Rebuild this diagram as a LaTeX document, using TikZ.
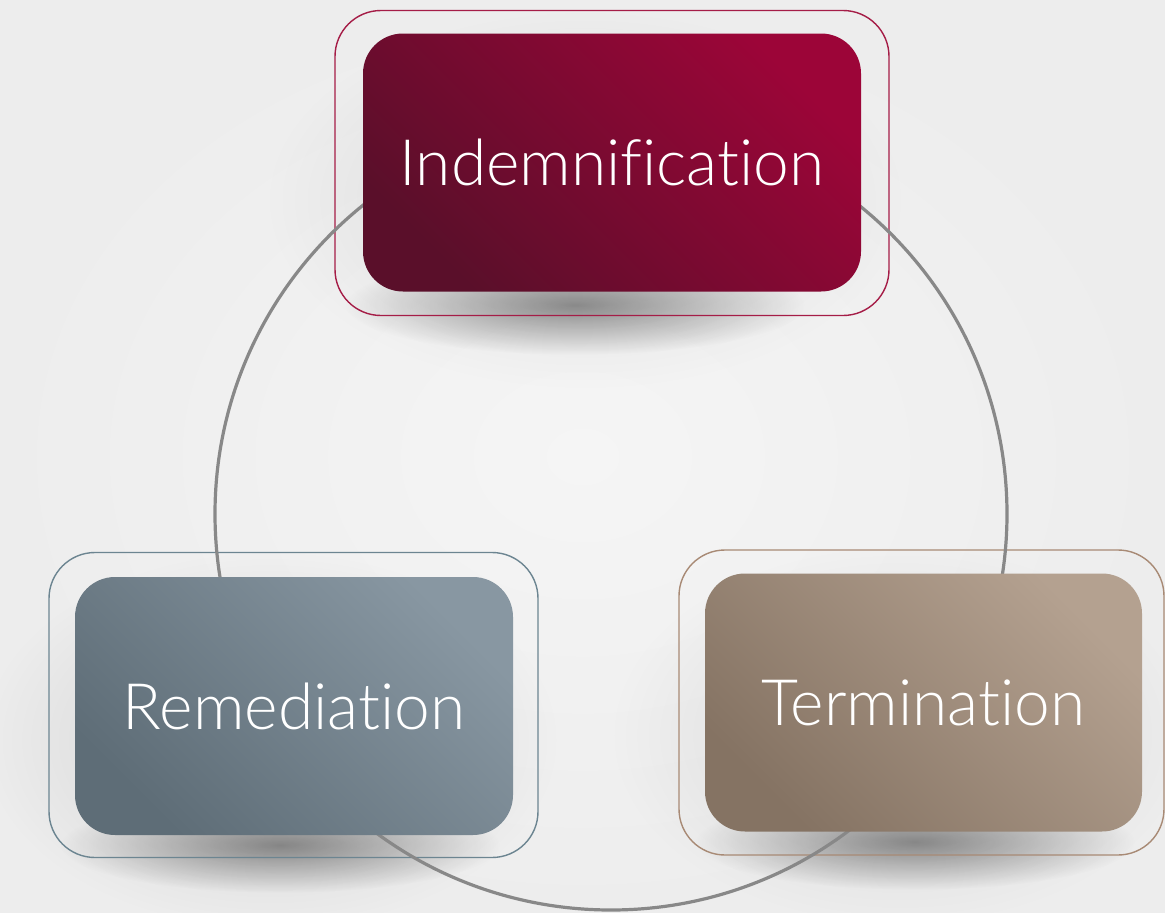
\documentclass[tikz,border=0pt]{standalone}
\usepackage{fontspec}
\newfontfamily\boxfont{Lato Light}[Ligatures={NoCommon}]
\usetikzlibrary{fadings}

\definecolor{bgouter}{HTML}{EDEDED}
\definecolor{bginner}{HTML}{F5F5F5}
\definecolor{ringgray}{HTML}{888888}
\definecolor{indDark}{HTML}{5A0F2A}
\definecolor{indLight}{HTML}{9C0538}
\definecolor{indFrame}{HTML}{A51D47}
\definecolor{remDark}{HTML}{5E6D77}
\definecolor{remLight}{HTML}{8897A2}
\definecolor{remFrame}{HTML}{6C8591}
\definecolor{terDark}{HTML}{857363}
\definecolor{terLight}{HTML}{B4A190}
\definecolor{terFrame}{HTML}{A88A75}

% radial fading: opaque centre, transparent rim
\tikzfading[name=softspot, inner color=transparent!0, outer color=transparent!100]

\begin{document}
\begin{tikzpicture}[x=1pt,y=-1pt,
  card/.style={rectangle, rounded corners=40pt, inner sep=0pt,
    minimum width=#1, minimum height=258pt, text=white,
    font=\boxfont\fontsize{64}{72}\selectfont},
  frame/.style={rectangle, rounded corners=46pt, inner sep=0pt,
    line width=1.4pt, minimum height=305pt},
  spot/.style={fill=black, opacity=#1, path fading=softspot},
  tone/.style n args={2}{top color=#2, bottom color=#1, shading angle=-45},
]
% backdrop
\shade[inner color=bginner, outer color=bgouter] (0,0) rectangle (1165,913);
\useasboundingbox (0,0) rectangle (1165,913);

% soft shadows cast by the cards
\fill[spot=0.10] (585,200) ellipse[x radius=320pt, y radius=190pt];
\fill[spot=0.40] (575,305) ellipse[x radius=230pt, y radius=50pt];
\fill[spot=0.12] (270,740) ellipse[x radius=290pt, y radius=190pt];
\fill[spot=0.40] (280,845) ellipse[x radius=220pt, y radius=48pt];
\fill[spot=0.10] (900,735) ellipse[x radius=290pt, y radius=190pt];
\fill[spot=0.40] (915,842) ellipse[x radius=220pt, y radius=48pt];

% outline frames
\node[frame, draw=indFrame, minimum width=554pt] (fInd) at (612,163) {};
\node[frame, draw=remFrame, minimum width=489pt] (fRem) at (293.5,705) {};
\node[frame, draw=terFrame, minimum width=485pt] (fTer) at (921.5,702.5) {};

% the cycle ring behind the cards
\coordinate (ring) at (611,514);
\draw[ringgray, line width=3.2pt] (ring) circle[radius=396pt];

% cards
\node[card=498pt, tone={indDark}{indLight}] (ind) at (612,162.5) {Indemnification};
\node[card=438pt, tone={remDark}{remLight}] (rem) at (294,706) {Remediation};
\node[card=437pt, tone={terDark}{terLight}] (ter) at (923.5,702.5) {Termination};
\end{tikzpicture}
\end{document}
